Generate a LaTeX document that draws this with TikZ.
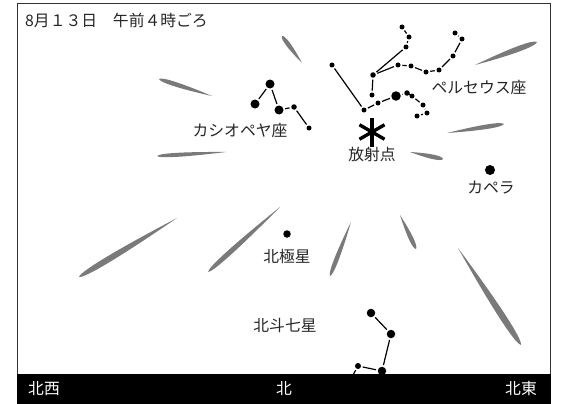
\documentclass[tikz,border=0pt]{standalone}
\usepackage{fontspec}
\setmainfont{Noto Sans CJK JP}
\usetikzlibrary{calc}
\begin{document}
\begin{tikzpicture}[x=1pt,y=-1pt,
  star/.style={circle,fill=black,inner sep=0pt,outer sep=1.8pt,minimum size=#1},
  link/.style={line width=1.2pt},
  meteor/.style={fill=black!52},
  lbl/.style={font=\fontsize{15.8}{18}\selectfont,inner sep=0pt,text=black!85},
  compass/.style={lbl,text=white}]
\useasboundingbox (0,0) rectangle (562,404);

% meteor streaks: head (far end) / tail (toward the radiant) / width
\foreach \hx/\hy/\tx/\ty/\w in {
  282/36/302/63/4.5, 159/79/212/96/4.5, 157/156/226/152/4,
  537/42/475/65/5.5, 504/124/447/133/4.5, 443/159/410/152/4.5,
  79/277/177/218/6, 208/272/280/207/5, 330/276/351/222/4.5,
  416/249/400/215/4.5, 521/345/458/248/6.5}{
  \pgfmathsetmacro\mwid{0.667*\w}
  \coordinate (T) at (\tx,\ty);
  \coordinate (H) at (\hx,\hy);
  \fill[meteor] (T) .. controls ($(T)!0.6!(H)!\mwid pt!90:(H)$) and ($(T)!0.96!(H)!\mwid pt!90:(H)$) .. (H)
    .. controls ($(T)!0.96!(H)!\mwid pt!-90:(H)$) and ($(T)!0.6!(H)!\mwid pt!-90:(H)$) .. (T) -- cycle;
}

% Cassiopeia
\node[star=9pt] (c1) at (255,104) {};
\node[star=9pt] (c2) at (270,84) {};
\node[star=9pt] (c3) at (279,110) {};
\node[star=5.5pt] (c4) at (294,107) {};
\node[star=5pt] (c5) at (309,128) {};
\draw[link] (c1)--(c2)--(c3)--(c4)--(c5);

% Perseus
\node[star=5pt] (p1) at (332,65) {};
\node[star=5pt] (p2) at (364,110) {};
\node[star=5pt] (p3) at (378,103) {};
\node[star=9.5pt] (p4) at (396,96) {};
\node[star=5.5pt] (p5) at (407,93) {};
\node[star=5pt] (p6) at (412,96) {};
\node[star=5pt] (p7) at (423,105) {};
\node[star=5pt] (p8) at (427,113) {};
\node[star=5pt] (p9) at (417,116) {};
\node[star=5pt] (p10) at (372,95) {};
\node[star=5.5pt] (p11) at (373,75) {};
\node[star=5pt] (p12) at (406,47) {};
\node[star=5pt] (p13) at (409,37) {};
\node[star=5pt] (p14) at (402,27) {};
\node[star=5pt] (p15) at (398,65) {};
\node[star=5pt] (p16) at (411,66) {};
\node[star=5pt] (p17) at (426,72) {};
\node[star=5pt] (p18) at (439,70) {};
\node[star=5pt] (p19) at (453,56) {};
\node[star=5pt] (p20) at (462,39) {};
\node[star=5pt] (p21) at (455,33) {};
\draw[link] (p1)--(p2)--(p3)--(p4)--(p5)--(p6)--(p7)--(p8)--(p9);
\draw[link] (p10)--(p11)--(p12)--(p13)--(p14);
\draw[link] (p11)--(p15)--(p16)--(p17)--(p18)--(p19)--(p20)--(p21);

% Big Dipper
\node[star=8.5pt] (b1) at (371,313) {};
\node[star=8.5pt] (b2) at (391,334) {};
\node[star=8.5pt] (b3) at (382,371) {};
\node[star=6pt] (b4) at (358,366) {};
\coordinate (b5) at (348,384);
\draw[link] (b1)--(b2)--(b3)--(b4)--(b5);

% single stars
\node[star=7.5pt] (polaris) at (287,234) {};
\node[star=10pt] (capella) at (490,170) {};

% radiant
\coordinate (rad) at (372,132);
\foreach \ang in {90,30,150,210,270,330}
  \draw[line width=3.4pt] (rad) -- ++(\ang:14.5);

% labels
\node[lbl] (lcas) at (240,130) {カシオペヤ座};
\node[lbl] (lper) at (479,87) {ペルセウス座};
\node[lbl] (lrad) at (372,155) {放射点};
\node[lbl] (lcap) at (491,188) {カペラ};
\node[lbl] (lpol) at (287,256) {北極星};
\node[lbl] (lbd) at (285,326) {北斗七星};
\node[lbl,anchor=west] (title) at (25,20) {8月１３日　午前４時ごろ};

% frame and horizon bar
\draw[line width=1pt,black!80] (17,4) rectangle (550,403);
\fill[black] (17,374) rectangle (550.5,403.5);
\node[compass] (nw) at (44,389) {北西};
\node[compass] (n) at (284,389) {北};
\node[compass] (ne) at (521,389) {北東};
\end{tikzpicture}
\end{document}
